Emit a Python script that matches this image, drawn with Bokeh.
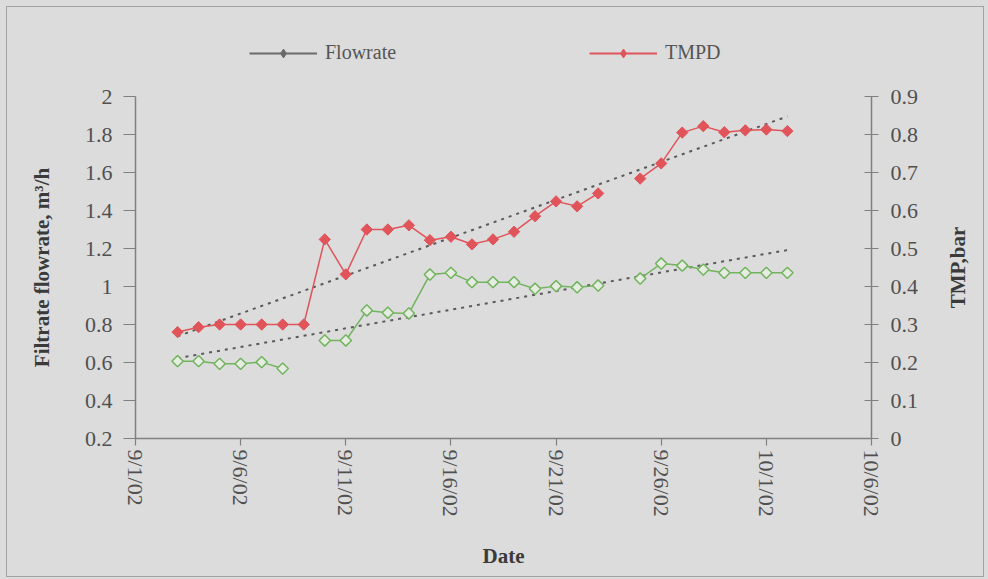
import numpy as np
import pandas as pd
from bokeh.plotting import figure
from bokeh.models import (Range1d, LinearAxis, FixedTicker, PrintfTickFormatter,
                          Legend, LegendItem, ColumnDataSource, Title)
from bokeh.layouts import column, row
from bokeh.embed import file_html
from bokeh.resources import INLINE

# ---------------- data ----------------
dates = ["2002-09-03", "2002-09-04", "2002-09-05", "2002-09-06", "2002-09-07",
         "2002-09-08", "2002-09-09", "2002-09-10", "2002-09-11", "2002-09-12",
         "2002-09-13", "2002-09-14", "2002-09-15", "2002-09-16", "2002-09-17",
         "2002-09-18", "2002-09-19", "2002-09-20", "2002-09-21", "2002-09-22",
         "2002-09-23", "2002-09-24", "2002-09-25", "2002-09-26", "2002-09-27",
         "2002-09-28", "2002-09-29", "2002-09-30", "2002-10-01", "2002-10-02"]

flowrate = [0.607, 0.607, 0.593, 0.593, 0.602, 0.568, np.nan, 0.716, 0.716, 0.874,
            0.862, 0.858, 1.063, 1.072, 1.023, 1.023, 1.023, 0.988, 1.002, 0.996,
            1.005, np.nan, 1.042, 1.121, 1.110, 1.089, 1.072, 1.072, 1.072, 1.072]

tmpd = [0.280, 0.293, 0.300, 0.300, 0.300, 0.300, 0.300, 0.524, 0.432, 0.550,
        0.550, 0.561, 0.522, 0.531, 0.511, 0.524, 0.544, 0.585, 0.624, 0.611,
        0.645, np.nan, 0.684, 0.724, 0.805, 0.822, 0.806, 0.811, 0.813, 0.809]

x_tick_dates = ["2002-09-01", "2002-09-06", "2002-09-11", "2002-09-16",
                "2002-09-21", "2002-09-26", "2002-10-01", "2002-10-06"]
x_tick_labels = ["9/1/02", "9/6/02", "9/11/02", "9/16/02",
                 "9/21/02", "9/26/02", "10/1/02", "10/6/02"]

left_ticks = [0.2, 0.4, 0.6, 0.8, 1.0, 1.2, 1.4, 1.6, 1.8, 2.0]
right_ticks = [0.0, 0.1, 0.2, 0.3, 0.4, 0.5, 0.6, 0.7, 0.8, 0.9]

left_title = "Filtrate flowrate, m³/h"
right_title = "TMP,bar"
x_title = "Date"
series_names = ["Flowrate", "TMPD"]

# ---------------- styles ----------------
BG = "#dcdcdc"
FONT = "Liberation Serif"
TXT = "#505050"
AXC = "#808080"
RED = "#e0545a"
GREEN = "#72b45e"
TREND = "#5a5a5a"
LEG_GRAY = "#6a6a6a"

x = pd.to_datetime(dates)
tick_ms = [pd.Timestamp(d).value // 10**6 for d in x_tick_dates]

src = ColumnDataSource(dict(x=x, flow=flowrate, tmp=tmpd))

# linear trend lines (least squares on the plotted points)
days = np.array([(d - x[0]).days for d in x], dtype=float)
fl = np.array(flowrate)
tp = np.array(tmpd)
mf = ~np.isnan(fl)
mt = ~np.isnan(tp)
cf = np.polyfit(days[mf], fl[mf], 1)
ct = np.polyfit(days[mt], tp[mt], 1)
trend_x = [x[0], x[-1]]
trend_flow = [np.polyval(cf, days[0]), np.polyval(cf, days[-1])]
trend_tmp = [np.polyval(ct, days[0]), np.polyval(ct, days[-1])]

def blank(fig):
    fig.xgrid.visible = False
    fig.ygrid.visible = False

# ---------------- main chart ----------------
p = figure(width=923, height=492, x_axis_type="datetime",
           x_range=Range1d(pd.Timestamp(x_tick_dates[0]), pd.Timestamp(x_tick_dates[-1])),
           y_range=Range1d(left_ticks[0], left_ticks[-1]),
           output_backend="svg", toolbar_location=None,
           min_border_left=128, min_border_right=59,
           min_border_top=12, min_border_bottom=138,
           background_fill_color=BG, border_fill_color=BG,
           outline_line_color=None)
p.extra_y_ranges = {"tmp": Range1d(right_ticks[0], right_ticks[-1])}
blank(p)

xa = p.xaxis[0]
xa.ticker = FixedTicker(ticks=tick_ms)
xa.major_label_overrides = {t: l for t, l in zip(tick_ms, x_tick_labels)}
xa.major_label_orientation = "vertical"
xa.axis_label = x_title

ya = p.yaxis[0]
ya.ticker = FixedTicker(ticks=left_ticks)
ya.formatter = PrintfTickFormatter(format="%.3g")
ya.axis_label = left_title

ra = LinearAxis(y_range_name="tmp", ticker=FixedTicker(ticks=right_ticks),
                formatter=PrintfTickFormatter(format="%.3g"))
p.add_layout(ra, "right")

for ax in (xa, ya, ra):
    ax.axis_line_color = AXC
    ax.axis_line_width = 1.5
    ax.major_tick_line_color = AXC
    ax.major_tick_line_width = 1.2
    ax.minor_tick_line_color = None
    ax.major_label_text_font = FONT
    ax.major_label_text_font_size = "22px"
    ax.major_label_text_color = TXT
    ax.axis_label_text_font = FONT
    ax.axis_label_text_font_size = "21px"
    ax.axis_label_text_font_style = "bold"
    ax.axis_label_text_color = "#3a3a3a"

xa.major_tick_in = 0
xa.major_tick_out = 7
xa.major_label_standoff = 4
xa.axis_label_standoff = 24
ya.major_tick_in = 0
ya.major_tick_out = 12
ya.major_label_standoff = 11
ya.axis_label_standoff = 28
ra.major_tick_in = 7
ra.major_tick_out = 7
ra.major_label_standoff = 12

# trend lines
p.line(trend_x, trend_tmp, y_range_name="tmp", line_color=TREND, line_width=2,
       line_dash="3 5")
p.line(trend_x, trend_flow, line_color=TREND, line_width=2, line_dash="3 5")

# series
p.line("x", "flow", source=src, line_color=GREEN, line_width=1.5)
p.scatter("x", "flow", source=src, marker="square", angle=np.pi / 4, size=8,
          line_color=GREEN, line_width=1.5, fill_color="#e6ece2")
p.line("x", "tmp", source=src, y_range_name="tmp", line_color=RED, line_width=1.5)
p.scatter("x", "tmp", source=src, y_range_name="tmp", marker="square",
          angle=np.pi / 4, size=8, line_color=RED, fill_color=RED)

# ---------------- legend strip on top ----------------
top = figure(width=976, height=77, x_range=(0, 1), y_range=(0, 1),
             output_backend="svg", toolbar_location=None,
             x_axis_location=None, y_axis_location=None, min_border=0,
             background_fill_color=BG, border_fill_color=BG,
             outline_line_color=None)
blank(top)
ghost = ColumnDataSource(dict(x=[np.nan], y=[np.nan]))
lf1 = top.line("x", "y", source=ghost, line_color=LEG_GRAY, line_width=2)
lf2 = top.scatter("x", "y", source=ghost, marker="diamond", size=11,
                  line_color=LEG_GRAY, fill_color=LEG_GRAY)
lt1 = top.line("x", "y", source=ghost, line_color=RED, line_width=2)
lt2 = top.scatter("x", "y", source=ghost, marker="diamond", size=11,
                  line_color=RED, fill_color=RED)
legend = Legend(items=[LegendItem(label=series_names[0], renderers=[lf1, lf2], index=0),
                       LegendItem(label=series_names[1], renderers=[lt1, lt2], index=0)],
                location=(242, 20), orientation="horizontal",
                glyph_width=68, glyph_height=22, label_standoff=8,
                label_width=92, spacing=172, padding=0, margin=0,
                border_line_alpha=0, background_fill_alpha=0,
                label_text_font=FONT, label_text_font_size="20px",
                label_text_color="#555555")
top.add_layout(legend)

# ---------------- right-hand axis title strip ----------------
side = figure(width=53, height=492, x_range=(0, 1), y_range=(0, 1),
              output_backend="svg", toolbar_location=None,
              x_axis_location=None, y_axis_location=None,
              min_border_left=40, min_border_right=0,
              min_border_top=12, min_border_bottom=138,
              background_fill_color=BG, border_fill_color=BG,
              outline_line_color=None)
blank(side)
side.line("x", "y", source=ghost, line_alpha=0)
side.add_layout(Title(text=right_title, align="center", vertical_align="middle",
                      standoff=0, text_font=FONT, text_font_size="21px",
                      text_font_style="bold", text_color="#3a3a3a"), "left")

chart = column(top, row(p, side, spacing=0), spacing=0)
inner = column(chart, styles={"border": "1px solid #a2a2a2"})
outer = column(inner, styles={"background-color": BG,
                              "padding": "6px 4px 2px 6px"})

open("out.html", "w").write(file_html(outer, INLINE))
